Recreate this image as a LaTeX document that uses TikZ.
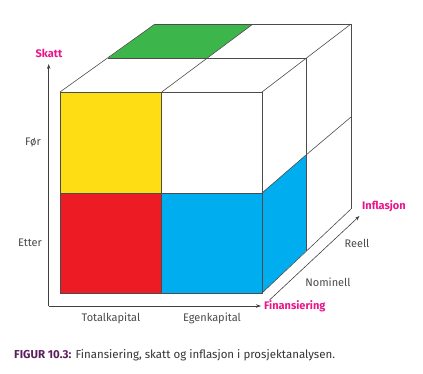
\documentclass[tikz,border=0pt]{standalone}
\usepackage{fontspec}
\setmainfont{Fira Sans}
\usepackage{xcolor}
\usepackage{tikz}
\usetikzlibrary{arrows.meta}
\definecolor{cubeyellow}{HTML}{FFDD15}
\definecolor{cubered}{HTML}{ED1C24}
\definecolor{cubeblue}{HTML}{00AEEF}
\definecolor{cubegreen}{HTML}{3CB54A}
\definecolor{axispink}{HTML}{E8168A}
\definecolor{figpurple}{HTML}{5C1F5E}
\definecolor{labelgray}{HTML}{4A4A4A}

\begin{document}
\begin{tikzpicture}[x=1pt,y=-1pt,font=\fontsize{11}{13}\selectfont,
  edge/.style={draw=black!70,line width=0.6pt},
  axis/.style={draw=black!75,line width=0.6pt,-{Stealth[length=5pt,width=3.5pt]}},
  axislabel/.style={text=axispink,font=\fontsize{11}{13}\selectfont\bfseries,inner sep=1pt},
  celllabel/.style={text=labelgray,inner sep=1pt}]
  \useasboundingbox (0,0) rectangle (423,373);
  % coloured cells
  \fill[cubegreen] (108,58)--(155,24)--(253,24)--(207,58)--cycle;
  \fill[cubeyellow] (60,92) rectangle (161.7,193);
  \fill[cubered] (60,193) rectangle (161.7,293);
  \fill[cubeblue] (161.7,193) rectangle (262,293);
  \fill[cubeblue] (262,193)--(306,155)--(306,251)--(262,293)--cycle;
  % front face
  \draw[edge] (60,92) rectangle (262,293);
  \draw[edge] (161.7,92)--(161.7,293);
  \draw[edge] (60,193)--(262,193);
  % top face
  \draw[edge] (108,58)--(306,58);
  \draw[edge] (155,24)--(351,24);
  \draw[edge] (60,92)--(155,24);
  \draw[edge] (161.7,92)--(253,24);
  \draw[edge] (262,92)--(351,24);
  % right face
  \draw[edge] (306,58)--(306,251);
  \draw[edge] (351,24)--(351,209);
  \draw[edge] (262,193)--(306,155)--(351,117);
  \draw[edge] (262,293)--(351,209);
  % axes
  \coordinate (origin) at (48.7,306);
  \coordinate (skattend) at (48.7,64);
  \coordinate (finend) at (261,306);
  \coordinate (inflstart) at (269.5,300);
  \coordinate (inflend) at (359.5,216);
  \draw[axis] (origin)--(skattend);
  \draw[axis] (origin)--(finend);
  \draw[axis] (inflstart)--(inflend);
  \node[axislabel] (skatt) at (49,53) {Skatt};
  \node[axislabel,anchor=west] (finansiering) at (263,306) {Finansiering};
  \node[axislabel,anchor=west] (inflasjon) at (361,206) {Inflasjon};
  % category labels
  \node[celllabel] (for) at (33,142) {Før};
  \node[celllabel] (etter) at (30,243) {Etter};
  \node[celllabel] (totalkapital) at (111,318) {Totalkapital};
  \node[celllabel] (egenkapital) at (212,318) {Egenkapital};
  \node[celllabel] (reell) at (357,243) {Reell};
  \node[celllabel] (nominell) at (328,282) {Nominell};
  % caption
  \node[anchor=west,inner sep=0pt,text=black!80,font=\fontsize{11.5}{13}\selectfont] (caption) at (14,355)
    {{\color{figpurple}\bfseries FIGUR 10.3:} Finansiering, skatt og inflasjon i prosjektanalysen.};
\end{tikzpicture}
\end{document}
